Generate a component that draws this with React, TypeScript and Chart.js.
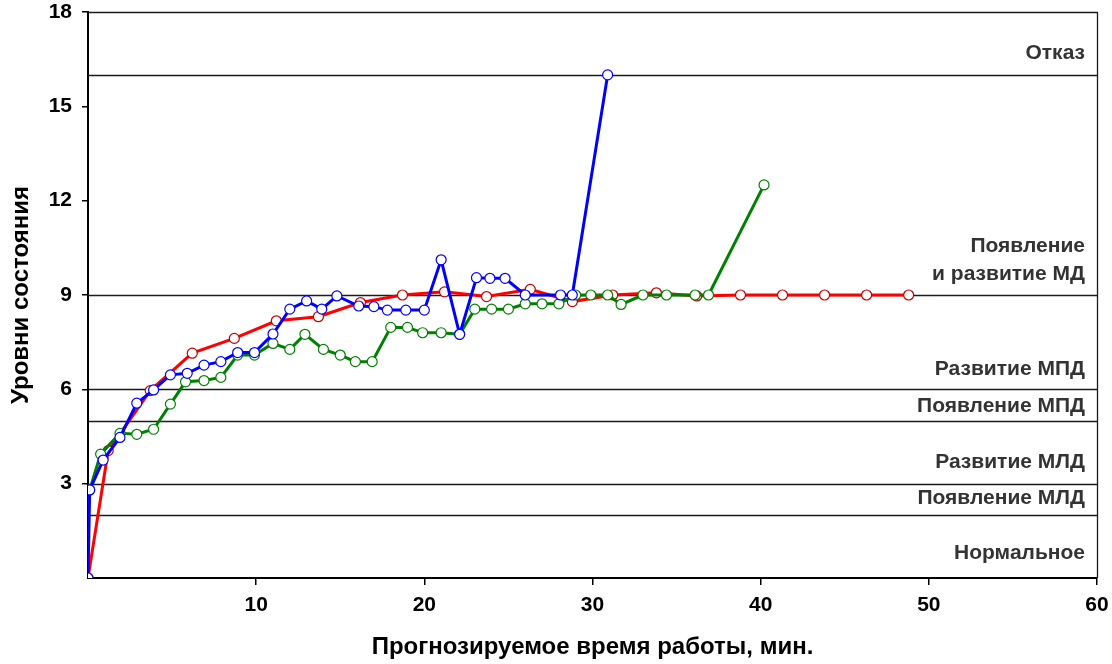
import React, { useEffect, useRef } from 'react';
import { Chart, registerables } from 'chart.js';

Chart.register(...registerables);

// ---- Data ----
const blueX = [0, 0.1, 0.9, 1.9, 2.9, 3.9, 4.9, 5.9, 6.9, 7.9, 8.9, 9.9, 11, 12, 13, 13.9, 14.8, 16.1, 17, 17.8, 18.9, 20, 21, 22.1, 23.1, 23.9, 24.8, 26, 28.1, 28.8, 30.9];
const blueY = [0, 2.8, 3.75, 4.47, 5.56, 5.98, 6.46, 6.51, 6.77, 6.88, 7.17, 7.17, 7.76, 8.55, 8.81, 8.55, 8.97, 8.65, 8.63, 8.52, 8.52, 8.52, 10.12, 7.75, 9.55, 9.53, 9.53, 9.0, 9.0, 9.0, 16];

const greenX = [0.1, 0.75, 1.9, 2.9, 3.9, 4.9, 5.8, 6.9, 7.9, 8.9, 9.9, 11, 12, 12.9, 14, 15, 15.9, 16.9, 18, 19, 19.9, 21, 22.1, 23, 24, 25, 26, 27, 28, 29, 29.9, 30.9, 31.7, 33, 34.4, 36.1, 36.9, 40.2];
const greenY = [2.8, 3.94, 4.6, 4.57, 4.73, 5.53, 6.24, 6.28, 6.38, 7.09, 7.09, 7.46, 7.27, 7.75, 7.27, 7.09, 6.88, 6.88, 7.97, 7.97, 7.8, 7.8, 7.75, 8.55, 8.55, 8.55, 8.72, 8.72, 8.72, 9.0, 9.0, 9.0, 8.7, 9.0, 9.0, 9.0, 9.0, 12.5];

const redX = [0, 1.2, 3.7, 6.2, 8.7, 11.2, 13.7, 16.2, 18.7, 21.2, 23.7, 26.3, 28.8, 31.2, 33.8, 36.2, 38.8, 41.3, 43.8, 46.3, 48.8];
const redY = [0, 4.05, 5.96, 7.15, 7.62, 8.18, 8.31, 8.76, 9.0, 9.1, 8.95, 9.18, 8.79, 9.0, 9.07, 8.97, 9.0, 9.0, 9.0, 9.0, 9.0];

const xTickValues = [10, 20, 30, 40, 50, 60];
const yTickValues = [3, 6, 9, 12, 15, 18];

const stateLevels = [2, 3, 5, 6, 9, 16];
const stateNames = ['Нормальное', 'Появление МЛД', 'Развитие МЛД', 'Появление МПД', 'Развитие МПД', 'Появление', 'и развитие МД', 'Отказ'];
// level each state name sits above (0 = axis bottom)
const stateAnchors = [0, 2, 3, 5, 6, 9, 9, 16];

const xTitle = 'Прогнозируемое время работы, мин.';
const yTitle = 'Уровни состояния';

// ---- Styling (not data) ----
const FONT = '"Liberation Sans", Arial, sans-serif';
const NARROW = '"Liberation Sans Narrow", "Arial Narrow", "Liberation Sans", Arial, sans-serif';
const labelOffsets = [-25, -17, -21, -15, -20, -49, -21, -22];

const toPoints = (xs: number[], ys: number[]) => xs.map((x, i) => ({ x, y: ys[i] }));

const levelsPlugin = {
  id: 'levels',
  beforeDatasetsDraw(chart: any) {
    const { ctx, chartArea, scales } = chart;
    const { left, right, top, bottom } = chartArea;
    const y = scales.y;
    ctx.save();
    ctx.strokeStyle = '#1a1a1a';
    ctx.lineWidth = 1.3;
    stateLevels.forEach((v) => {
      const py = Math.round(y.getPixelForValue(v)) + 0.5;
      ctx.beginPath();
      ctx.moveTo(left, py);
      ctx.lineTo(right, py);
      ctx.stroke();
    });
    // plot border (top / right)
    ctx.beginPath();
    ctx.moveTo(left, Math.round(top) + 0.5);
    ctx.lineTo(Math.round(right) + 0.5, Math.round(top) + 0.5);
    ctx.lineTo(Math.round(right) + 0.5, bottom);
    ctx.stroke();
    ctx.restore();
  },
  afterDraw(chart: any) {
    const { ctx, chartArea, scales } = chart;
    const y = scales.y;
    ctx.save();
    ctx.font = `bold 21px ${FONT}`;
    ctx.fillStyle = '#333333';
    ctx.textAlign = 'right';
    ctx.textBaseline = 'middle';
    stateNames.forEach((name, i) => {
      const py = y.getPixelForValue(stateAnchors[i]) + labelOffsets[i];
      ctx.fillText(name, chartArea.right - 12, py);
    });
    ctx.restore();
  },
};

export default function App() {
  const canvasRef = useRef<HTMLCanvasElement | null>(null);

  useEffect(() => {
    if (!canvasRef.current) return;
    const pointCommon = {
      borderWidth: 3,
      pointRadius: 5,
      pointBorderWidth: 1.2,
      pointBackgroundColor: '#ffffff',
      tension: 0,
      fill: false,
    };
    const chart = new Chart(canvasRef.current, {
      type: 'line',
      data: {
        datasets: [
          { ...pointCommon, label: 'blue', data: toPoints(blueX, blueY), borderColor: '#0000ff', pointBorderColor: '#0000ff' },
          { ...pointCommon, label: 'green', data: toPoints(greenX, greenY), borderColor: '#008000', pointBorderColor: '#008000' },
          { ...pointCommon, label: 'red', data: toPoints(redX, redY), borderColor: '#ff0000', pointBorderColor: '#c00000' },
        ],
      },
      options: {
        animation: false,
        responsive: true,
        maintainAspectRatio: false,
        layout: { padding: { top: 12, right: 15, left: 0, bottom: 0 } },
        plugins: { legend: { display: false }, tooltip: { enabled: false } },
        scales: {
          x: {
            type: 'linear',
            min: 0,
            max: 60,
            afterBuildTicks: (s: any) => { s.ticks = xTickValues.map((v) => ({ value: v })); },
            afterFit: (s: any) => { s.height = 86; s.paddingLeft = 0; s.paddingRight = 0; },
            grid: { drawOnChartArea: false, drawTicks: true, tickLength: 7, color: '#000', lineWidth: 1.5 },
            border: { display: true, color: '#000', width: 2 },
            ticks: { color: '#000', padding: 8, font: { family: NARROW, size: 21, weight: 'bold' }, maxRotation: 0 },
            title: { display: true, text: xTitle, color: '#000', font: { family: FONT, size: 24, weight: 'bold', lineHeight: 1 }, padding: { top: 0, bottom: 5 } },
          },
          y: {
            type: 'linear',
            min: 0,
            max: 18,
            afterBuildTicks: (s: any) => { s.ticks = yTickValues.map((v) => ({ value: v })); },
            afterFit: (s: any) => { s.width = 88; s.paddingTop = 0; s.paddingBottom = 0; },
            grid: { drawOnChartArea: false, drawTicks: true, tickLength: 6, color: '#000', lineWidth: 1.5 },
            border: { display: true, color: '#000', width: 2 },
            ticks: { color: '#000', padding: 10, font: { family: FONT, size: 21, weight: 'bold' } },
            title: { display: true, text: yTitle, color: '#000', font: { family: FONT, size: 24, weight: 'bold', lineHeight: 1 }, padding: { top: 9, bottom: 0 } },
          },
        },
      },
      plugins: [levelsPlugin],
    } as any);
    return () => chart.destroy();
  }, []);

  return (
    <div style={{ position: 'fixed', left: 0, top: 0, width: '1112px', height: '664px', background: '#fff' }}>
      <canvas ref={canvasRef} />
    </div>
  );
}
